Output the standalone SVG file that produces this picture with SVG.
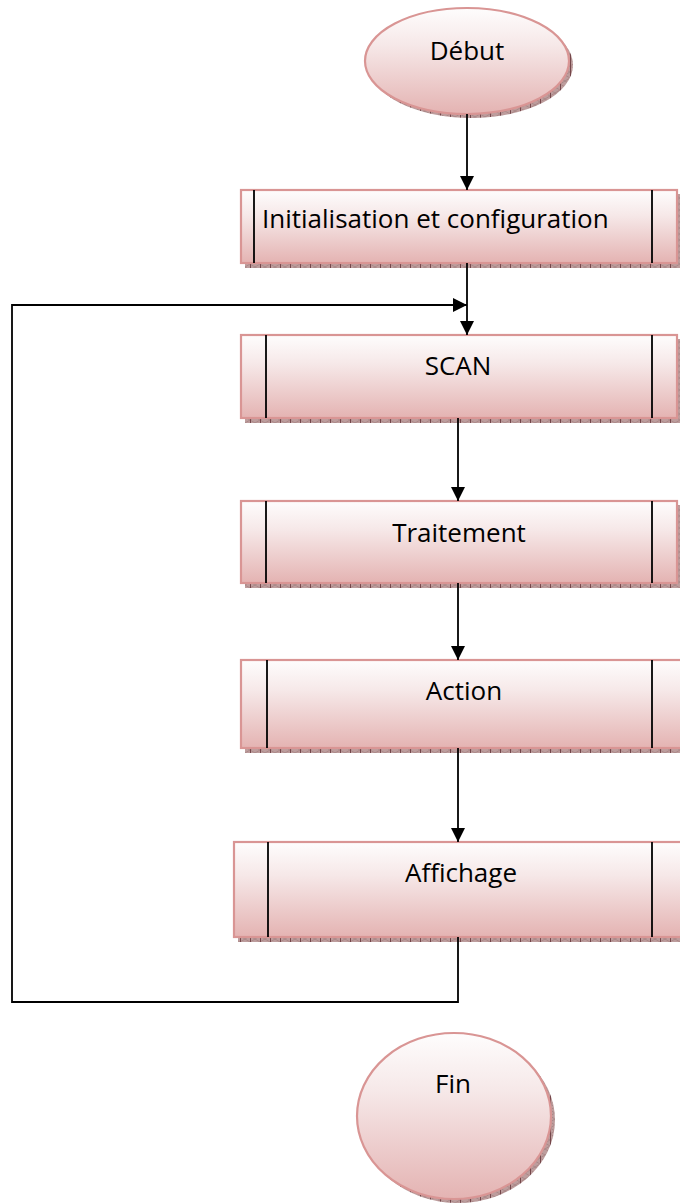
<svg xmlns="http://www.w3.org/2000/svg" width="680" height="1203" viewBox="0 0 680 1203">
<defs>
<linearGradient id="g" x1="0" y1="0" x2="0" y2="1">
<stop offset="0" stop-color="#fefdfd"/>
<stop offset="0.35" stop-color="#f6e8e8"/>
<stop offset="1" stop-color="#e4b3b2"/>
</linearGradient>
<pattern id="hatch" width="10" height="6" patternUnits="userSpaceOnUse">
<rect width="10" height="6" fill="#bd9d9d"/>
<path d="M0,0 L10,6 M10,0 L0,6" stroke="#9e7a7a" stroke-width="0.6"/>
<line x1="0.5" y1="0" x2="0.5" y2="6" stroke="#74464a" stroke-width="1"/>
</pattern>
<marker id="arr" viewBox="0 0 10 10" refX="10" refY="5" markerWidth="15" markerHeight="14" markerUnits="userSpaceOnUse" orient="auto">
<path d="M0,0 L10,5 L0,10 z" fill="#000"/>
</marker>
</defs>
<style>
.shadow{fill:url(#hatch);}
.box{fill:url(#g);stroke:#d99594;stroke-width:2.2;}
.bar{stroke:#000;stroke-width:1.8;}
.lbl{font-family:"Open Sans","Liberation Sans",sans-serif;font-size:26px;fill:#000;}
.mid{text-anchor:middle;}
.conn{fill:none;stroke:#000;stroke-width:1.8;marker-end:url(#arr);}
</style>

<g id="debut">
<ellipse class="shadow" cx="471" cy="65" rx="102" ry="53"/>
<ellipse class="box" cx="467" cy="61" rx="102" ry="53"/>
<text class="lbl mid" x="467" y="60">Début</text>
</g>

<g id="init">
<rect class="shadow" x="245" y="194" width="440" height="74"/>
<rect class="box" x="241" y="190" width="436" height="73"/>
<line class="bar" x1="254" y1="190" x2="254" y2="263"/>
<line class="bar" x1="652" y1="190" x2="652" y2="263"/>
<text class="lbl" x="262" y="228">Initialisation et configuration</text>
</g>

<g id="scan">
<rect class="shadow" x="245" y="339" width="440" height="84"/>
<rect class="box" x="241" y="335" width="436" height="83"/>
<line class="bar" x1="266" y1="335" x2="266" y2="418"/>
<line class="bar" x1="652" y1="335" x2="652" y2="418"/>
<text class="lbl mid" x="458" y="375">SCAN</text>
</g>

<g id="traitement">
<rect class="shadow" x="245" y="505" width="440" height="83"/>
<rect class="box" x="241" y="501" width="436" height="82"/>
<line class="bar" x1="266" y1="501" x2="266" y2="583"/>
<line class="bar" x1="652" y1="501" x2="652" y2="583"/>
<text class="lbl mid" x="459" y="542">Traitement</text>
</g>

<g id="action">
<rect class="shadow" x="245" y="664" width="440" height="89"/>
<rect class="box" x="241" y="660" width="445" height="88"/>
<line class="bar" x1="267" y1="660" x2="267" y2="748"/>
<line class="bar" x1="652" y1="660" x2="652" y2="748"/>
<text class="lbl mid" x="464" y="700">Action</text>
</g>

<g id="affichage">
<rect class="shadow" x="238" y="846" width="450" height="96"/>
<rect class="box" x="234" y="842" width="452" height="95"/>
<line class="bar" x1="268" y1="842" x2="268" y2="937"/>
<line class="bar" x1="652" y1="842" x2="652" y2="937"/>
<text class="lbl mid" x="461" y="882">Affichage</text>
</g>

<g id="fin">
<ellipse class="shadow" cx="458" cy="1120" rx="97" ry="83"/>
<ellipse class="box" cx="454" cy="1116" rx="97" ry="83"/>
<text class="lbl mid" x="453" y="1093">Fin</text>
</g>

<g id="connectors">
<path class="conn" d="M467,114 V190"/>
<path class="conn" d="M467,263 V335"/>
<path class="conn" d="M458,418 V501"/>
<path class="conn" d="M458,583 V660"/>
<path class="conn" d="M458,748 V842"/>
<path class="conn" d="M458,937 V1002 H12 V305 H467"/>
</g>
</svg>
